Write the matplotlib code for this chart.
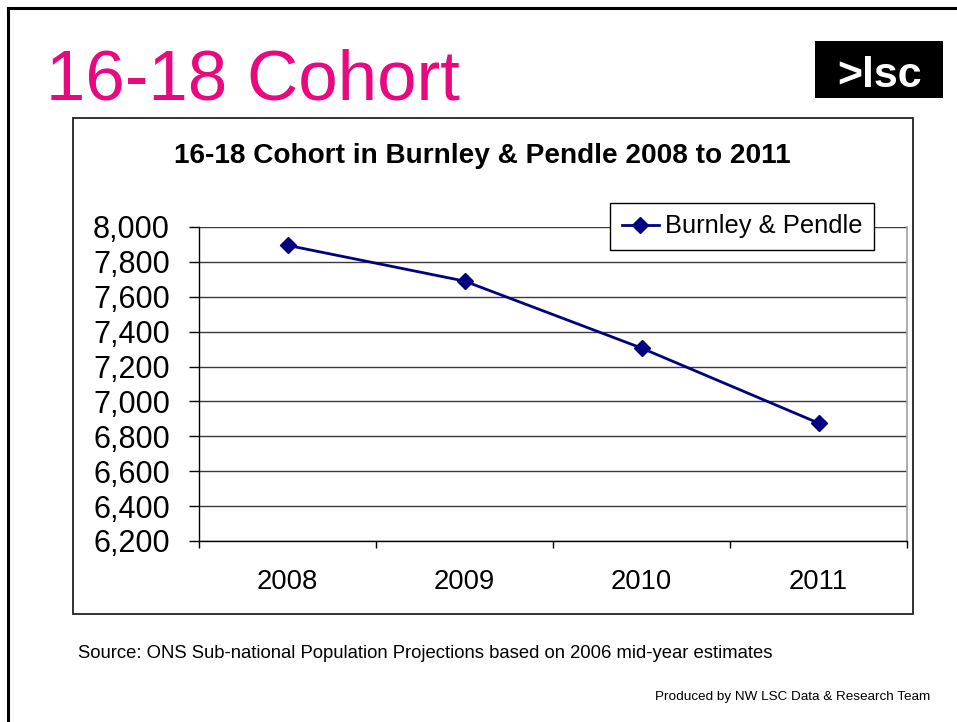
import matplotlib
matplotlib.use("Agg")
import matplotlib.pyplot as plt
from matplotlib.patches import Rectangle
from matplotlib.lines import Line2D
from matplotlib.ticker import FuncFormatter, FixedLocator

# data
years = ["2008", "2009", "2010", "2011"]
cohort = [7895, 7690, 7306, 6876]
series_name = "Burnley & Pendle"

W, H = 957, 722
plt.rcParams['font.family'] = ['Liberation Sans', 'DejaVu Sans']

fig = plt.figure(figsize=(W / 100, H / 100), dpi=100)

def fx(px):
    return px / W

def fy(py):
    return 1 - py / H

# slide frame (top + left lines only)
fig.add_artist(Line2D([fx(8), 1], [fy(8), fy(8)], color='black', lw=2.2))
fig.add_artist(Line2D([fx(8), fx(8)], [fy(8), 0], color='black', lw=2.2))

# slide title
fig.text(fx(46), fy(100), "16-18 Cohort", color='#E8087F', fontsize=51,
         va='baseline', ha='left')

# logo
fig.add_artist(Rectangle((fx(815), fy(98)), fx(943) - fx(815), fy(41) - fy(98),
                         facecolor='black', edgecolor='none'))
fig.text(fx(880), fy(87), ">lsc", color='white', fontsize=31, fontweight='bold',
         ha='center', va='baseline')

# chart box
fig.add_artist(Rectangle((fx(73), fy(614)), fx(913) - fx(73), fy(118) - fy(614),
                         facecolor='none', edgecolor='#222222', lw=1.3))

fig.text(fx(482), fy(163), "16-18 Cohort in Burnley & Pendle 2008 to 2011",
         fontsize=20.2, fontweight='bold', ha='center', va='baseline')

# plot area
left, right, top, bottom = 199, 907, 227, 541
ax = fig.add_axes([fx(left), fy(bottom), fx(right) - fx(left), fy(top) - fy(bottom)])

x = list(range(len(years)))
ax.plot(x, cohort, color='#000080', lw=2, marker='D', markersize=8,
        label=series_name, clip_on=False, zorder=3)

ax.set_ylim(6200, 8000)
ax.set_xlim(-0.5, len(years) - 0.5)
ax.yaxis.set_major_locator(FixedLocator(range(6200, 8001, 200)))
ax.yaxis.set_major_formatter(FuncFormatter(lambda v, p: f"{int(v):,}"))
ax.grid(axis='y', color='#3a3a3a', lw=1)
ax.set_axisbelow(True)

ax.set_xticks(x)
ax.set_xticklabels(years)
ax.set_xticks([i - 0.5 for i in range(len(years) + 1)], minor=True)
ax.tick_params(axis='x', which='major', length=0, labelsize=19.7, pad=20)
ax.tick_params(axis='x', which='minor', length=5, width=1, direction='out')
ax.tick_params(axis='y', length=7, width=1, direction='out', labelsize=22, pad=14)

ax.spines['top'].set_visible(False)
ax.spines['right'].set_color('#a0a0a0')
ax.spines['right'].set_linewidth(1.2)
ax.spines['left'].set_linewidth(1)
ax.spines['bottom'].set_linewidth(1)

leg = fig.legend(loc='upper left', bbox_to_anchor=(fx(610), fy(203)),
                 fontsize=18.4, frameon=True, fancybox=False, framealpha=1,
                 edgecolor='black', handlelength=1.45, borderpad=0.45,
                 borderaxespad=0, handletextpad=0.25)
leg.get_frame().set_linewidth(1)

fig.text(fx(78), fy(658), "Source: ONS Sub-national Population Projections based on 2006 mid-year estimates",
         fontsize=13.3, ha='left', va='baseline')
fig.text(fx(930), fy(700), "Produced by NW LSC Data & Research Team",
         fontsize=9.7, ha='right', va='baseline')

fig.savefig("out.png", dpi=100)
